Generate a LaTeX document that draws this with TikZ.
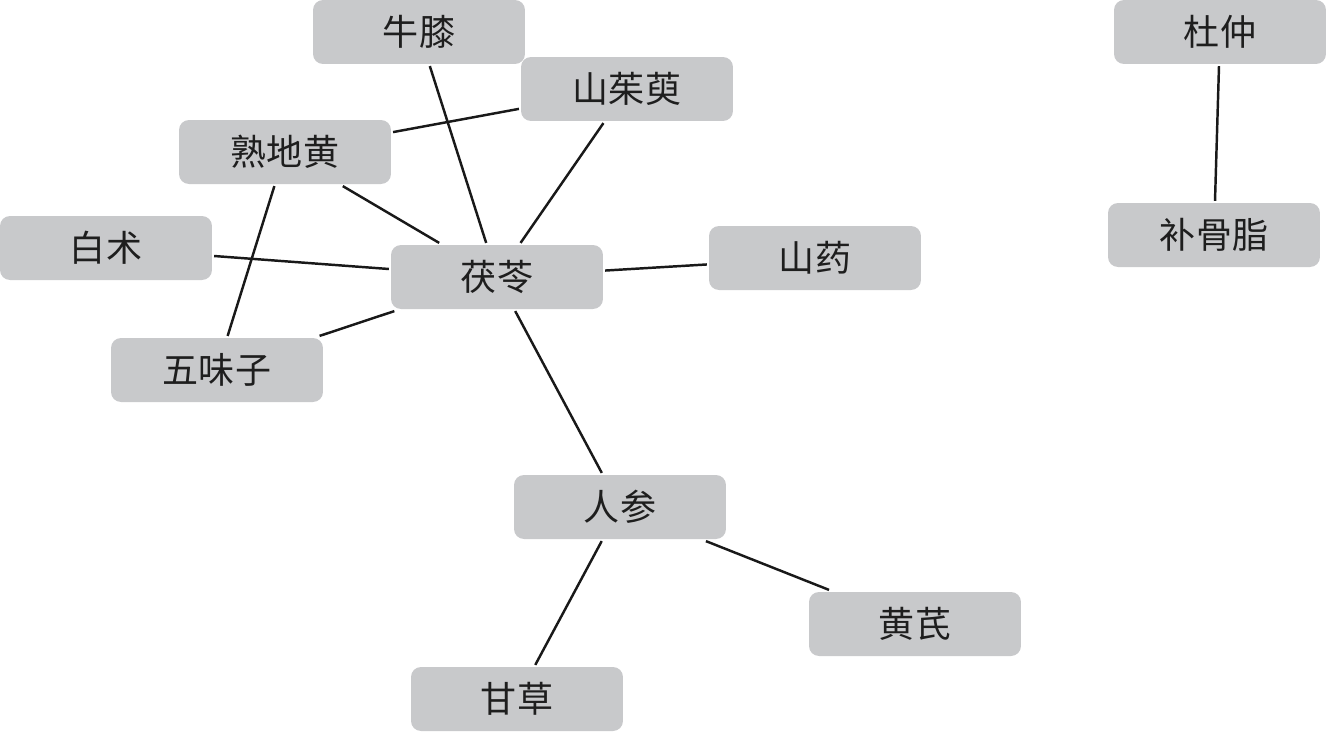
\documentclass[tikz,border=0pt]{standalone}
\usepackage{fontspec}
\setmainfont{Noto Sans CJK SC}
\definecolor{boxgray}{HTML}{C8C9CB}
\definecolor{textdark}{HTML}{1E1E1E}
\tikzset{
  herb/.style={fill=boxgray, rounded corners=0.2cm, minimum width=4.24cm,
    minimum height=1.28cm, inner sep=0pt, outer sep=1.2pt, text=textdark,
    font=\fontsize{20.5pt}{20.5pt}\selectfont},
  link/.style={line width=1.4pt, black!90}
}
\begin{document}
\begin{tikzpicture}[x=0.02cm, y=-0.02cm]
        \useasboundingbox (0,0) rectangle (1326,731);
        % Nodos
        \node[herb] (niuxi) at (419,32) {牛膝};
        \node[herb] (shanzhuyu) at (627,89) {山茱萸};
        \node[herb] (shudihuang) at (285,152) {熟地黄};
        \node[herb] (baizhu) at (106,248) {白术};
        \node[herb] (fuling) at (497,277) {茯苓};
        \node[herb] (shanyao) at (815,258) {山药};
        \node[herb] (wuweizi) at (217,370) {五味子};
        \node[herb] (renshen) at (620,507) {人参};
        \node[herb] (huangqi) at (915,624) {黄芪};
        \node[herb] (gancao) at (517,699) {甘草};
        \node[herb] (duzhong) at (1220,32) {杜仲};
        \node[herb] (buguzhi) at (1214,235) {补骨脂};
        % Conexiones
        \draw[link] (niuxi) -- (fuling);
        \draw[link] (shanzhuyu) -- (fuling);
        \draw[link] (shudihuang) -- (shanzhuyu);
        \draw[link] (shudihuang) -- (fuling);
        \draw[link] (shudihuang) -- (wuweizi);
        \draw[link] (baizhu) -- (fuling);
        \draw[link] (fuling) -- (shanyao);
        \draw[link] (wuweizi) -- (fuling);
        \draw[link] (fuling) -- (renshen);
        \draw[link] (renshen) -- (gancao);
        \draw[link] (renshen) -- (huangqi);
        \draw[link] (duzhong) -- (buguzhi);
    \end{tikzpicture}
\end{document}
